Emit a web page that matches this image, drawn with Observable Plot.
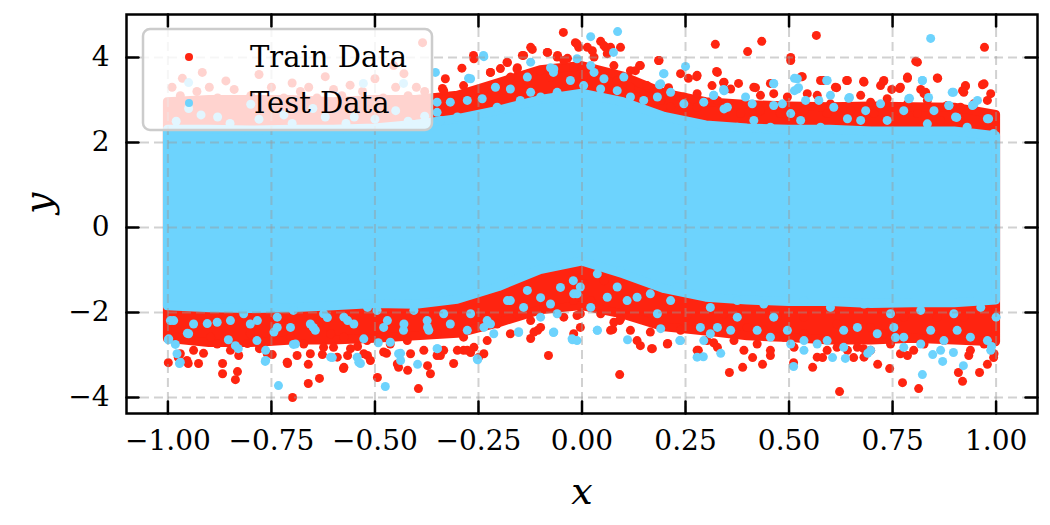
<!DOCTYPE html>
<html><head><meta charset="utf-8">
<script src="https://cdn.jsdelivr.net/npm/d3@7"></script>
<script src="https://cdn.jsdelivr.net/npm/@observablehq/plot@0.6"></script>
<style>
body{margin:0;background:#fff;}
#wrap{position:relative;width:1050px;height:525px;}
#wrap svg{display:block;}
#legend{position:absolute;left:0;top:0;pointer-events:none;}
</style></head><body><div id="wrap"></div>
<script>
// ---- data ----
const xGrid     = [-1,-0.9,-0.8,-0.7,-0.6,-0.5,-0.4,-0.3,-0.2,-0.1,0,0.1,0.2,0.3,0.4,0.5,0.6,0.7,0.8,0.9,1];
// dense Train core (upper / lower envelope)
const trainTop  = [2.95,3.0,3.0,3.0,2.95,3.0,3.0,3.1,3.4,3.7,3.8,3.55,3.15,2.95,2.88,2.85,2.83,2.85,2.83,2.82,2.65];
const trainBot  = [-2.62,-2.72,-2.72,-2.66,-2.66,-2.62,-2.56,-2.5,-2.25,-1.95,-1.85,-2.05,-2.35,-2.45,-2.56,-2.6,-2.66,-2.66,-2.62,-2.66,-2.7];
// dense Test core (upper / lower envelope)
const testTop   = [2.3,2.3,2.28,2.3,2.3,2.33,2.42,2.55,2.75,3.0,3.15,2.95,2.6,2.4,2.33,2.3,2.3,2.26,2.26,2.26,2.15];
const testBot   = [-1.85,-1.9,-1.92,-1.9,-1.85,-1.8,-1.82,-1.7,-1.4,-1.0,-0.8,-1.1,-1.45,-1.65,-1.72,-1.75,-1.75,-1.8,-1.78,-1.78,-1.72];
// scattered Train points [x, y]
const trainPoints = [
[-0.045,4.59],[-0.016,4.35],[-0.12,4.19],[-0.083,4.12],[-0.059,4.05],[-0.035,3.98],[-0.18,3.88],[-0.144,4.05],[-0.262,4.05],[-0.221,3.65],[-0.197,3.74],[-0.156,3.76],[-0.337,3.27],[-0.008,4.24],[0.045,4.38],[0.025,4.16],[0.057,4.24],[0.069,4.24],[0.093,4.24],[0.322,4.31],[0.4,4.14],[0.434,4.38],[0.566,4.52],[0.504,4.0],[0.972,4.24],[0.806,3.91],[0.185,3.93],[0.238,3.62],[0.257,3.51],[0.277,3.55],[0.325,3.67],[0.53,3.55],[0.583,3.46],[0.639,3.46],[0.68,3.44],[0.728,3.44],[0.721,3.34],[0.786,3.51],[0.859,3.51],[0.818,3.25],[0.83,3.18],[0.926,3.34],[0.919,3.22],[0.967,3.36],[0.987,3.15],[0.767,3.27],[0.748,3.25],[0.615,3.29],[0.342,3.41],[0.378,3.39],[0.419,3.29],[0.455,3.39],[0.139,3.81],[0.129,3.69],[0.161,3.29],[0.209,3.29],
[-0.385,4.35],[-0.455,3.81],[-0.965,3.51],[-0.917,3.65],[-0.86,3.45],[-0.78,3.6],[-0.7,3.4],[-0.62,3.55],[-0.56,3.35],[-0.5,3.5],[-0.43,3.62],[-0.4,3.3],[-0.99,3.3],[-0.9,3.3],[-0.66,3.3],[-0.33,3.5],[-0.29,3.75],
[-0.97,3.1],[-0.93,3.2],[-0.88,3.05],[-0.84,3.25],[-0.8,3.1],[-0.75,3.3],[-0.72,3.05],[-0.68,3.2],[-0.64,3.05],[-0.6,3.25],[-0.58,3.1],[-0.53,3.2],[-0.48,3.05],[-0.45,3.3],[-0.42,3.1],[-0.38,3.2],[-0.36,3.05],
[-0.261,3.97],[-0.221,3.65],[-0.286,3.34],[-0.334,3.22],[-0.181,3.89],[-0.157,3.73],[-0.141,4.05],[-0.124,4.24],[-0.084,4.12],[-0.06,4.01],[-0.044,3.93],[-0.012,4.32],[-0.02,3.77],[0.013,4.24],[0.029,4.01],[0.053,4.28],[0.061,4.09],[0.077,3.81],[0.117,3.69],[0.141,3.81],[0.186,3.93],[0.157,3.34],[0.278,3.58],[0.327,3.65],[0.343,3.42],[0.314,3.34],[0.278,3.15],[0.246,3.07],[0.206,3.22],[0.19,2.99],[-0.205,3.34],[-0.237,3.26],[-0.269,3.11],[-0.318,2.99],[-0.342,2.83],[-0.173,3.54],[-0.1,3.69],[-0.132,3.46],[-0.076,3.54],[0.004,3.58],[0.085,3.46],[0.117,3.3],[0.133,3.07],[0.165,2.91],[0.214,2.83],[0.278,2.83],[0.327,2.99],
[0.504,3.93],[0.81,3.89],[0.532,3.55],[0.641,3.46],[0.681,3.42],[0.729,3.46],[0.769,3.3],[0.786,3.54],[0.858,3.52],[0.926,3.32],[0.971,3.38],[0.922,3.18],[0.826,3.15],[0.612,3.3],[0.576,3.46],[0.359,3.26],[0.415,3.3],[0.463,3.15],[0.431,3.11],[0.496,3.07],[0.544,3.15],[0.568,3.11],[0.6,2.91],[0.673,3.11],[0.697,2.95],[0.737,3.03],[0.786,2.91],[0.834,2.99],[0.882,2.87],[0.914,2.83],[0.946,2.91],[0.979,2.99],[0.979,2.68],[0.995,2.44],[0.914,2.52],[0.866,2.52],[0.81,2.68],[0.761,2.75],[0.705,2.68],[0.649,2.75],[0.592,2.68],[0.536,2.75],[0.479,2.68],[0.431,2.75],[0.383,2.68],[0.343,2.75],
[-0.999,-3.18],[-0.975,-3.06],[-0.951,-3.2],[-0.926,-3.2],[-0.914,-2.96],[-0.868,-3.2],[-0.868,-3.44],[-0.832,-3.39],[-0.837,-3.58],[-0.808,-2.73],[-0.779,-2.85],[-0.748,-2.99],[-0.711,-3.2],[-0.699,-4.0],[-0.661,-3.22],[-0.661,-3.67],[-0.634,-3.55],[-0.627,-2.99],[-0.6,-2.82],[-0.576,-3.32],[-0.566,-3.01],[-0.542,-2.8],[-0.518,-3.01],[-0.494,-3.53],[-0.472,-2.96],[-0.443,-3.29],[-0.421,-3.36],[-0.395,-3.79],[-0.373,-3.25],[-0.366,-3.44],[-0.342,-3.01],[-0.31,-3.2],[-0.286,-2.89],[-0.269,-2.94],[-0.25,-3.06],[-0.081,-3.01],[-0.124,-2.61],[-0.107,-2.42],
[-0.97,-2.97],[-0.954,-3.13],[-0.938,-2.89],[-0.881,-2.74],[-0.849,-2.89],[-0.829,-3.01],[-0.777,-2.82],[-0.76,-2.97],[-0.712,-3.17],[-0.688,-3.01],[-0.656,-2.97],[-0.624,-2.82],[-0.591,-3.05],[-0.575,-3.29],[-0.575,-2.58],[-0.559,-2.85],[-0.527,-2.97],[-0.511,-3.13],[-0.479,-2.93],[-0.446,-3.21],[-0.422,-2.66],[-0.414,-2.97],[-0.382,-2.89],[-0.35,-3.01],[-0.334,-2.89],[-0.301,-2.89],[-0.277,-2.89],[-0.261,-2.82],[-0.286,-2.58],[-0.229,-2.66],[-0.173,-2.5],[-0.124,-2.19],[-0.116,-2.46],[-0.1,-2.35],[-0.044,-2.11],[-0.012,-2.07],[-0.02,-2.5],[-0.157,-2.03],[-0.092,-1.88],[-0.978,-2.58],[-0.946,-2.42],[-0.897,-2.58],[-0.801,-2.5],[-0.704,-2.58],[-0.672,-2.74],[-0.607,-2.5],[-0.519,-2.66],[-0.463,-2.74],[-0.35,-2.5],[-0.205,-2.27],[-0.237,-2.97],
[0.091,-3.46],[0.074,-2.4],[0.091,-2.19],[0.141,-2.78],[0.168,-2.85],[0.207,-2.73],[0.281,-2.89],[0.318,-2.71],[0.356,-3.41],[0.388,-3.29],[0.412,-3.06],[0.436,-3.22],[0.455,-3.01],[0.511,-3.18],[0.557,-3.29],[0.581,-3.06],[0.622,-3.86],[0.656,-3.06],[0.68,-2.85],[0.714,-3.22],[0.743,-3.32],[0.774,-3.65],[0.786,-3.01],[0.813,-3.79],[0.909,-3.41],[0.919,-3.62],[0.96,-3.41],[0.979,-3.22],[0.994,-3.06],[0.934,-3.01],
[-0.012,-0.78],[0.004,-1.32],[-0.02,-1.72],[0.021,-1.72],[-0.004,-2.03],[-0.004,-2.35],[0.045,-2.03],[0.077,-2.23],[0.093,-2.15],[0.069,-2.42],[0.117,-2.42],[0.133,-2.66],[0.165,-2.46],[0.17,-2.85],[0.206,-2.74],[0.238,-2.42],[0.254,-2.07],[0.278,-2.89],[0.302,-2.66],[0.327,-2.82],[0.343,-2.03],[0.367,-2.66],[0.391,-2.89],[0.423,-2.74],[0.399,-2.35],[0.439,-2.42],[0.455,-2.89],[0.487,-2.58],[0.512,-2.82],[0.536,-2.5],[0.568,-3.05],[0.592,-2.89],[0.616,-2.82],[0.641,-2.89],[0.665,-2.82],[0.681,-3.05],[0.697,-2.89],[0.729,-2.5],[0.745,-2.74],[0.769,-2.97],[0.801,-2.89],[0.826,-2.74],[0.842,-2.5],[0.874,-2.66],[0.906,-2.5],[0.938,-2.89],[0.971,-2.74],[0.995,-2.58],[0.995,-2.97],[0.922,-2.11],[0.858,-2.11],[0.777,-2.11],[0.697,-2.35],[0.616,-2.27],[0.536,-2.11],[0.472,-2.11],[0.584,-1.72],[0.632,-1.56],[0.729,-1.72],[0.826,-1.56],[0.898,-1.56],[0.979,-1.72],[-0.012,-1.01],[0.053,-1.25],[0.117,-1.17],[0.182,-1.48],[0.262,-1.56],[0.31,-1.72],[0.375,-1.56],[0.439,-1.8],[0.52,-1.72]
];
// scattered Test points [x, y]
const testPoints = [
[0.086,4.61],[0.021,4.49],[0.076,4.12],[-0.238,4.05],[-0.076,3.76],[-0.069,3.65],[-0.274,3.51],[0.197,3.62],[0.187,3.36],[0.25,3.79],[0.513,3.51],[0.523,3.29],[0.513,3.22],[0.591,3.46],[0.842,4.45],[0.822,3.46],[0.897,3.18],[0.646,3.06],[0.791,3.04],[0.837,3.06],[0.946,2.89],[0.886,2.87],[0.905,2.59],[0.982,2.56],[0.463,3.39],[0.342,3.25],[0.318,3.11],
[-0.354,3.65],[-0.237,4.02],[-0.124,3.89],[-0.068,3.73],[-0.012,3.97],[0.021,3.81],[0.029,3.65],[0.101,3.54],[0.198,3.62],[0.19,3.38],[0.214,3.18],[0.182,3.07],[0.318,3.11],[0.343,3.22],[-0.269,3.5],[-0.209,3.3],[-0.173,3.26],[-0.132,3.54],[-0.124,3.18],[-0.35,2.71],[-0.318,2.95],[-0.277,2.99],[-0.241,3.03],[-0.149,2.99],[-0.1,3.07],[-0.06,3.18],[-0.028,3.46],[0.004,3.34],[0.053,3.5],[0.045,3.26],[0.085,3.22],[0.117,3.07],[0.149,2.99],[0.246,2.91],[0.294,2.95],[0.343,2.79],[-0.342,2.52],[-0.301,2.6],[-0.205,2.83],
[0.52,3.5],[0.52,3.26],[0.592,3.46],[0.822,3.46],[0.894,3.18],[0.789,3.03],[0.644,3.04],[0.6,3.11],[0.463,3.38],[0.343,3.22],[0.395,3.07],[0.411,2.91],[0.463,2.87],[0.484,2.91],[0.54,2.99],[0.572,2.99],[0.608,2.83],[0.685,2.75],[0.721,2.91],[0.777,2.75],[0.85,2.75],[0.886,2.87],[0.902,2.6],[0.943,2.87],[0.955,2.99],[0.979,2.56],[0.351,2.83],[0.415,2.52],[0.504,2.68],[0.528,2.52],[0.641,2.56],[0.673,2.52],[0.737,2.52],[0.834,2.44],[0.93,2.36],[0.375,2.36],[0.455,2.36],[0.576,2.36],[0.994,2.21],
[-0.95,3.41],[-0.431,3.39],[-0.528,3.39],[-0.8,2.9],[-0.65,2.8],[-0.35,2.95],[-0.95,2.8],[-0.88,2.6],[-0.72,2.65],[-0.55,2.6],[-0.45,2.75],
[-0.98,2.5],[-0.92,2.65],[-0.85,2.45],[-0.78,2.55],[-0.7,2.45],[-0.62,2.6],[-0.57,2.45],[-0.5,2.55],[-0.42,2.5],[-0.38,2.62],
[-0.999,-2.64],[-0.972,-3.2],[-0.982,-2.75],[-0.854,-2.64],[-0.83,-2.85],[-0.765,-3.15],[-0.733,-3.72],[-0.697,-2.75],[-0.603,-3.06],[-0.535,-3.2],[-0.492,-2.71],[-0.475,-3.74],[-0.438,-2.96],[-0.397,-3.22],[-0.349,-2.85],[-0.252,-3.11],[-0.153,-2.47],[-0.069,-2.47],[-0.023,-2.64],[0.037,-2.42],[0.11,-2.64],[0.236,-2.66],[0.293,-3.04],[0.335,-2.96],[0.511,-3.27],[0.605,-3.06],[0.636,-3.08],[0.69,-2.96],[0.822,-3.46],[0.847,-2.99],[0.871,-3.15],[0.897,-2.94],[0.921,-3.25],[0.989,-2.8],[0.757,-2.59],
[-0.998,-2.62],[-0.978,-2.97],[-0.97,-3.17],[-0.95,-2.5],[-0.837,-2.78],[-0.785,-2.66],[-0.764,-2.89],[-0.764,-3.13],[-0.692,-2.74],[-0.644,-2.42],[-0.607,-3.05],[-0.543,-3.05],[-0.539,-3.17],[-0.527,-2.62],[-0.463,-2.7],[-0.443,-2.97],[-0.438,-3.13],[-0.37,-2.42],[-0.35,-2.85],[-0.253,-3.09],[-0.213,-2.5],[-0.153,-2.45],[-0.068,-2.46],[-0.024,-2.62],[-0.1,-2.11],[-0.06,-2.03],[-0.012,-1.56],[-0.076,-1.8],[-0.141,-1.88],[-0.173,-1.72],[-0.221,-2.27],[-0.994,-2.19],[-0.938,-2.27],[-0.881,-2.23],[-0.801,-2.27],[-0.744,-2.46],[-0.704,-2.35],[-0.656,-2.27],[-0.575,-2.11],[-0.551,-2.27],[-0.479,-2.35],[-0.43,-2.27],[-0.374,-2.19],[-0.318,-2.27],[-0.269,-2.03],[-0.237,-2.35],[-0.817,-2.03],[-0.736,-2.11],[-0.624,-2.03],[-0.495,-1.95],[-0.406,-1.95],[-0.334,-2.03],
[-0.986,-2.19],[-0.953,-2.49],[-0.905,-2.26],[-0.849,-2.19],[-0.784,-2.19],[-0.736,-2.35],[-0.697,-1.95],[-0.649,-2.35],[-0.615,-2.12],[-0.566,-2.19],[-0.518,-1.88],[-0.47,-2.19],[-0.431,-2.42],[-0.373,-2.35],[-0.277,-2.42],[-0.229,-2.19],[-0.18,-1.72],[-0.132,-1.48],[-0.1,-1.65],[-0.052,-1.41],[-0.021,-1.25],
[-0.02,-1.56],[-0.012,-2.66],[0.037,-2.42],[0.021,-1.88],[0.061,-1.64],[0.085,-1.4],[0.109,-1.72],[0.133,-1.64],[0.165,-1.56],[0.182,-2.03],[0.19,-2.38],[0.214,-1.72],[0.238,-2.66],[0.286,-2.35],[0.294,-2.66],[0.31,-2.5],[0.327,-2.35],[0.359,-2.42],[0.375,-2.11],[0.423,-2.42],[0.455,-2.58],[0.463,-2.11],[0.496,-2.42],[0.504,-2.74],[0.536,-2.66],[0.568,-2.74],[0.592,-2.66],[0.632,-2.42],[0.665,-2.35],[0.713,-2.5],[0.753,-2.35],[0.777,-2.58],[0.818,-2.74],[0.842,-2.42],[0.874,-2.66],[0.906,-2.42],[0.938,-2.58],[0.979,-2.66],[0.987,-2.89],[0.866,-2.89],[0.777,-2.82],[0.697,-2.89],[0.632,-2.82],[0.536,-2.89],[0.278,-3.05],[-0.004,-1.4],[0.037,-1.09],[0.093,-1.01],[0.173,-1.32],[0.23,-1.4],[0.31,-1.88],[0.375,-1.72],[0.439,-1.8],[0.536,-1.72],[0.6,-1.88],[0.681,-1.8],[0.745,-2.03],[0.818,-1.95],[0.898,-2.03],[0.963,-1.88],[1.0,-2.11]
];
const xTicks = [-1,-0.75,-0.5,-0.25,0,0.25,0.5,0.75,1];
const yTicks = [-4,-2,0,2,4];
const seriesNames = ["Train Data","Test Data"];
const xLabel = "x", yLabel = "y";

// ---- styles ----
const RED = "#ff2410", BLUE = "#6dd3fd";
const FONT = "DejaVu Serif";
const R = 4.5;

const band = xGrid.map((x,i)=>({x, rt: trainTop[i], rb: trainBot[i], bt: testTop[i], bb: testBot[i]}));
const train = trainPoints.map(([x,y])=>({x,y}));
const test = testPoints.map(([x,y])=>({x,y}));
const tickShape = {draw(ctx, l){ ctx.moveTo(0,0); ctx.lineTo(0,-l); }};
const fx = d3.format(".2f"), fy = d3.format("d");
const tickOpts = {length:12, shape:tickShape, anchor:"start", stroke:"black", strokeWidth:2.5};
const gridOpts = {stroke:"#999", strokeOpacity:0.45, strokeWidth:2, strokeDasharray:"9,5"};

const chart = Plot.plot({
  width:1050, height:525,
  marginLeft:126, marginRight:13, marginTop:14, marginBottom:112,
  x:{domain:[-1.1,1.1], axis:null},
  y:{domain:[-4.376,5.012], axis:null},
  style:{fontFamily:FONT, background:"white", color:"black"},
  marks:[
    Plot.areaY(band,{x:"x", y1:"rb", y2:"rt", fill:RED, stroke:RED, strokeWidth:2*R, strokeLinejoin:"round"}),
    Plot.dot(train,{x:"x", y:"y", r:R, fill:RED}),
    Plot.areaY(band,{x:"x", y1:"bb", y2:"bt", fill:BLUE, stroke:BLUE, strokeWidth:2*R, strokeLinejoin:"round"}),
    Plot.dot(test,{x:"x", y:"y", r:R, fill:BLUE}),
    Plot.ruleX(xTicks,{x:d=>d, ...gridOpts}),
    Plot.ruleY(yTicks,{y:d=>d, ...gridOpts}),
    Plot.vector(xTicks,{x:d=>d, frameAnchor:"bottom", rotate:0, ...tickOpts}),
    Plot.vector(xTicks,{x:d=>d, frameAnchor:"top", rotate:180, ...tickOpts}),
    Plot.vector(yTicks,{y:d=>d, frameAnchor:"left", rotate:90, ...tickOpts}),
    Plot.vector(yTicks,{y:d=>d, frameAnchor:"right", rotate:-90, ...tickOpts}),
    Plot.frame({stroke:"black", strokeWidth:2.5}),
    Plot.text(xTicks,{x:d=>d, frameAnchor:"bottom", dy:28, lineAnchor:"middle", text:d=>fx(d), fontSize:28, fill:"black"}),
    Plot.text(yTicks,{y:d=>d, frameAnchor:"left", dx:-17, textAnchor:"end", lineAnchor:"middle", text:d=>fy(d), fontSize:28, fill:"black"}),
    Plot.text([xLabel],{frameAnchor:"bottom", dy:78, lineAnchor:"middle", text:d=>d, fontSize:38, fontStyle:"italic", fill:"black"}),
    Plot.text([yLabel],{frameAnchor:"left", dx:-88, rotate:-90, lineAnchor:"middle", text:d=>d, fontSize:38, fontStyle:"italic", fill:"black"})
  ]
});
const wrap = document.getElementById("wrap");
wrap.appendChild(chart);

// ---- legend overlay ----
const NS = "http://www.w3.org/2000/svg";
const lg = document.createElementNS(NS,"svg");
lg.setAttribute("id","legend"); lg.setAttribute("width",1050); lg.setAttribute("height",525);
const colors = [RED, BLUE];
let html = `<rect x="143" y="29" width="289" height="101" rx="7" ry="7" fill="white" fill-opacity="0.8" stroke="#cccccc" stroke-width="2.5"/>`;
seriesNames.forEach((name,i)=>{
  const cy = 57 + i*46;
  html += `<circle cx="189" cy="${cy}" r="4" fill="${colors[i]}"/>`;
  html += `<text x="250" y="${cy}" dy="0.35em" font-family="${FONT}" font-size="29" fill="black">${name}</text>`;
});
lg.innerHTML = html;
wrap.appendChild(lg);
</script>
</body></html>
